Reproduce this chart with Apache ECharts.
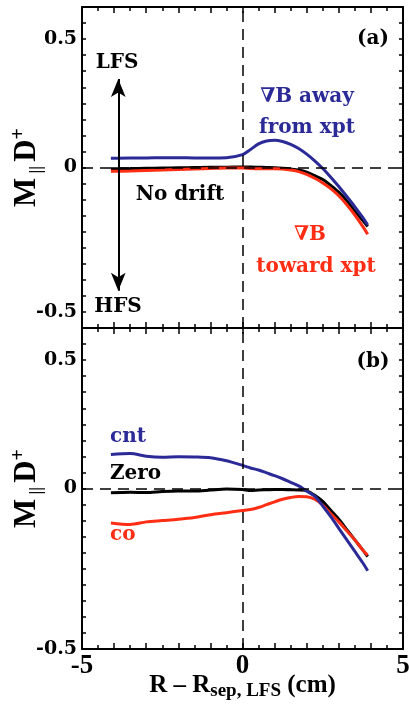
<!DOCTYPE html>
<html>
<head>
<meta charset="utf-8">
<script src="https://cdn.jsdelivr.net/npm/echarts@6/dist/echarts.min.js"></script>
<style>
  html, body { margin: 0; padding: 0; background: #fff; }
  #chart { width: 409px; height: 708px; }
</style>
</head>
<body>
<div id="chart"></div>
<script>
// radial position R - Rsep (cm)
const xs = [-4.1, -3.5, -3, -2.5, -2, -1.5, -1, -0.5, 0, 0.25, 0.5, 0.75, 1, 1.25, 1.5, 1.75, 2, 2.25, 2.5, 2.75, 3, 3.25, 3.5, 3.75, 3.9];

// panel (a)
const awayFromXpt = [0.036, 0.037, 0.037, 0.038, 0.038, 0.037, 0.037, 0.038, 0.05, 0.07, 0.092, 0.103, 0.106, 0.101, 0.09, 0.074, 0.052, 0.026, -0.004, -0.038, -0.074, -0.113, -0.153, -0.195, -0.224];
const noDrift = [-0.005, -0.004, -0.003, -0.002, -0.001, 0, 0.001, 0.001, 0.002, 0.002, 0.001, 0, -0.001, -0.003, -0.006, -0.01, -0.018, -0.032, -0.047, -0.07, -0.096, -0.13, -0.17, -0.207, -0.23];
const towardXpt = [-0.015, -0.014, -0.012, -0.01, -0.008, -0.006, -0.004, -0.002, -0.002, -0.004, -0.005, -0.005, -0.005, -0.006, -0.01, -0.016, -0.027, -0.042, -0.06, -0.082, -0.11, -0.145, -0.185, -0.23, -0.26];

// panel (b)
const cnt = [0.132, 0.136, 0.126, 0.122, 0.124, 0.123, 0.12, 0.108, 0.09, 0.08, 0.072, 0.061, 0.05, 0.038, 0.024, 0.01, -0.01, -0.03, -0.068, -0.11, -0.155, -0.2, -0.245, -0.29, -0.32];
const zero = [-0.017, -0.015, -0.016, -0.012, -0.01, -0.01, -0.006, -0.002, -0.004, -0.008, -0.006, -0.005, -0.004, -0.004, -0.005, -0.006, -0.009, -0.026, -0.05, -0.085, -0.12, -0.16, -0.2, -0.24, -0.265];
const co = [-0.134, -0.14, -0.13, -0.125, -0.12, -0.113, -0.102, -0.094, -0.086, -0.082, -0.074, -0.063, -0.052, -0.042, -0.035, -0.031, -0.032, -0.042, -0.065, -0.098, -0.13, -0.165, -0.2, -0.24, -0.26];

const xTickLabels = [-5, 0, 5];

const BLUE = "#2b2a97";
const RED = "#ff2d14";
const SERIF = "'Liberation Serif', 'Times New Roman', serif";
const WIDE = "'DejaVu Serif', serif";

const pairs = ys => xs.map((x, i) => [x, ys[i]]);
const near = (a, b) => Math.abs(a - b) < 1e-6;

const frameLine = { onZero: false, lineStyle: { color: "#000", width: 2 } };

function xAxisFor(gridIndex, position, labels) {
  return {
    type: "value", gridIndex, position, min: -5, max: 5, interval: 1,
    axisLine: frameLine,
    axisTick: { inside: true, length: 6, lineStyle: { color: "#000", width: 1.5 } },
    minorTick: { show: true, splitNumber: 2, length: 4, lineStyle: { color: "#000", width: 1.5 } },
    splitLine: { show: false },
    axisLabel: labels ? {
      show: true, margin: 4, color: "#000", fontFamily: SERIF, fontWeight: "bold", fontSize: 27,
      formatter: v => xTickLabels.some(t => near(t, v)) ? String(v) : ""
    } : { show: false }
  };
}

function yAxisFor(gridIndex, position, lowLabelAt) {
  return {
    type: "value", gridIndex, position, min: -0.625, max: 0.625, interval: 0.0625,
    axisLine: frameLine,
    axisTick: { inside: true, length: 4, lineStyle: { color: "#000", width: 1.5 } },
    splitLine: { show: false },
    axisLabel: position === "left" ? {
      show: true, margin: 5, color: "#000", fontFamily: WIDE, fontWeight: "bold", fontSize: 19,
      formatter: v => near(v, 0.5) ? "0.5" : near(v, 0) ? "0" : near(v, lowLabelAt) ? "-0.5" : ""
    } : { show: false },
    name: position === "left" ? "{m|M}{s| || }{m|D}{p|+}" : "",
    nameLocation: "middle", nameRotate: 90, nameGap: 37, nameMoveOverlap: false,
    nameTextStyle: {
      rich: {
        m: { fontFamily: SERIF, fontWeight: "bold", fontSize: 31, color: "#000", lineHeight: 36 },
        s: { fontFamily: SERIF, fontWeight: "bold", fontSize: 17, color: "#000", lineHeight: 14, verticalAlign: "bottom" },
        p: { fontFamily: SERIF, fontWeight: "bold", fontSize: 20, color: "#000", lineHeight: 16, verticalAlign: "top" }
      }
    }
  };
}

const dashed = { color: "#000", width: 1.5, type: [11, 7] };

function curve(axis, ys, color, extra) {
  return Object.assign({
    type: "line", xAxisIndex: axis, yAxisIndex: axis, data: pairs(ys),
    showSymbol: false, smooth: 0.3, silent: true,
    lineStyle: { color, width: 3 }
  }, extra || {});
}

function guides() {
  return {
    silent: true, symbol: "none", label: { show: false },
    lineStyle: dashed,
    data: [{ xAxis: 0 }, { yAxis: 0 }]
  };
}

const texts = [
  { text: "LFS", x: 117, y: 63, color: "#000" },
  { text: "HFS", x: 118, y: 307, color: "#000" },
  { text: "No drift", x: 180, y: 195, color: "#000" },
  { text: "∇B away", x: 307, y: 97, color: BLUE },
  { text: "from xpt", x: 307, y: 128, color: BLUE },
  { text: "∇B", x: 310, y: 235, color: RED },
  { text: "toward xpt", x: 316, y: 267, color: RED },
  { text: "(a)", x: 373, y: 39, color: "#000" },
  { text: "(b)", x: 373, y: 362, color: "#000" },
  { text: "cnt", x: 110, y: 437, color: BLUE, left: true },
  { text: "Zero", x: 110, y: 474, color: "#000", left: true },
  { text: "co", x: 110, y: 535, color: RED, left: true }
];

const chart = echarts.init(document.getElementById("chart"));
chart.setOption({
  animation: false,
  grid: [
    { left: 82, right: 6, top: 7, height: 321, containLabel: false, outerBoundsMode: "none" },
    { left: 82, right: 6, top: 328, height: 321, containLabel: false, outerBoundsMode: "none" }
  ],
  xAxis: [
    xAxisFor(0, "bottom", false),
    xAxisFor(0, "top", false),
    Object.assign(xAxisFor(1, "bottom", true), {
      name: "{r|R – R}{s|sep, LFS}{r| (cm)}",
      nameLocation: "middle", nameGap: 22, nameMoveOverlap: false,
      nameTextStyle: {
        rich: {
          r: { fontFamily: SERIF, fontWeight: "bold", fontSize: 25, color: "#000", lineHeight: 30 },
          s: { fontFamily: SERIF, fontWeight: "bold", fontSize: 19, color: "#000", lineHeight: 20, verticalAlign: "bottom" }
        }
      }
    }),
    xAxisFor(1, "top", false)
  ],
  yAxis: [
    yAxisFor(0, "left", -0.5625),
    yAxisFor(0, "right"),
    yAxisFor(1, "left", -0.625),
    yAxisFor(1, "right")
  ],
  series: [
    curve(0, noDrift, "#000", { markLine: guides() }),
    curve(0, towardXpt, RED, {
      markLine: {
        silent: true, symbol: ["arrow", "arrow"], symbolSize: [11, 18], label: { show: false },
        lineStyle: { color: "#000", width: 2, type: "solid" },
        data: [[{ coord: [-3.87, 0.345] }, { coord: [-3.87, -0.48] }]]
      }
    }),
    curve(0, awayFromXpt, BLUE),
    curve(2, zero, "#000", { markLine: guides() }),
    curve(2, co, RED),
    curve(2, cnt, BLUE)
  ],
  graphic: texts.map(t => ({
    type: "text", silent: true, x: t.x, y: t.y,
    style: {
      text: t.text, fill: t.color, font: "bold 20px " + WIDE,
      textAlign: t.left ? "left" : "center", align: t.left ? "left" : "center",
      textVerticalAlign: "middle", verticalAlign: "middle"
    }
  }))
});

window.addEventListener("resize", () => chart.resize());
</script>
</body>
</html>
